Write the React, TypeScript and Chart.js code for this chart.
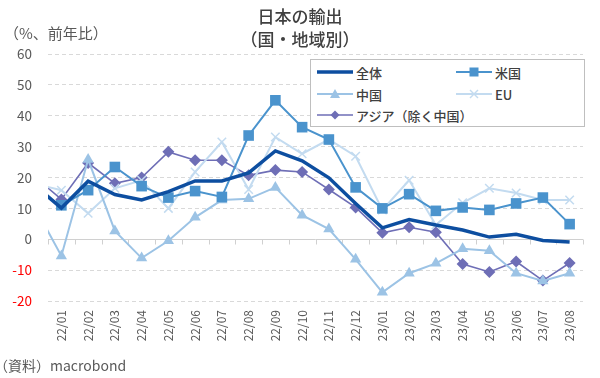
import React, { useEffect, useRef } from "react";
import { Chart, registerables } from "chart.js";

Chart.register(...registerables);

// Months (index 0 = 21/12, partly visible at the left edge)
const months = ["21/12", "22/01", "22/02", "22/03", "22/04", "22/05", "22/06", "22/07", "22/08", "22/09", "22/10", "22/11", "22/12", "23/01", "23/02", "23/03", "23/04", "23/05", "23/06", "23/07", "23/08"];

const total = [17.5, 10.1, 18.8, 14.5, 12.7, 15.4, 18.9, 18.9, 21.5, 28.6, 25.4, 19.9, 11.6, 3.7, 6.4, 4.6, 3.0, 0.7, 1.6, -0.4, -0.9];
const us = [16.0, 11.0, 15.9, 23.4, 17.2, 13.5, 15.6, 13.7, 33.6, 45.0, 36.3, 32.3, 16.8, 10.0, 14.6, 9.2, 10.3, 9.5, 11.6, 13.5, 4.9];
const china = [10.5, -5.4, 25.8, 2.7, -6.1, -0.5, 7.1, 12.7, 13.1, 16.8, 7.8, 3.3, -6.5, -17.2, -11.0, -7.8, -3.1, -3.7, -11.0, -13.5, -11.0];
const eu = [18.0, 15.9, 8.4, 16.5, 19.1, 10.0, 21.8, 31.5, 16.1, 33.1, 27.7, 32.3, 26.9, 9.5, 19.1, 4.6, 11.8, 16.5, 15.0, 12.7, 12.7];
const asia = [20.3, 12.9, 24.7, 18.1, 20.0, 28.3, 25.6, 25.6, 20.7, 22.4, 21.8, 16.1, 10.3, 2.1, 3.9, 2.3, -8.0, -10.6, -7.2, -13.4, -7.7];

const seriesNames = ["全体", "米国", "中国", "EU", "アジア（除く中国）"];
const yMin = -20;
const yMax = 60;
const yStep = 10;

const FONT = "'Noto Sans CJK JP', 'Noto Sans', sans-serif";
const C_TOTAL = "#0D4EA0";
const C_US = "#4A93CD";
const C_CN = "#9CC3E5";
const C_EU = "#C3DBF0";
const C_AS = "#6E6EB6";

const toPts = (arr: number[]) => arr.map((v, i) => ({ x: i, y: v }));

const zeroLinePlugin = {
  id: "zeroLine",
  beforeDatasetsDraw(chart: any) {
    const { ctx, chartArea, scales } = chart;
    const y0 = scales.y.getPixelForValue(0);
    ctx.save();
    ctx.strokeStyle = "#D0D0D0";
    ctx.lineWidth = 1;
    ctx.beginPath();
    ctx.moveTo(chartArea.left, Math.round(y0) + 0.5);
    ctx.lineTo(chartArea.right, Math.round(y0) + 0.5);
    for (let i = 0; i < months.length; i++) {
      const xp = Math.round(scales.x.getPixelForValue(i + 0.5)) + 0.5;
      if (xp < chartArea.left - 1 || xp > chartArea.right + 1) continue;
      ctx.moveTo(xp, Math.round(y0) + 0.5);
      ctx.lineTo(xp, Math.round(y0) + 5.5);
    }
    ctx.stroke();
    ctx.restore();
  },
};

function Marker({ kind, color, width }: { kind: string; color: string; width: number }) {
  const w = 36;
  const h = 14;
  const cx = w / 2;
  const cy = h / 2;
  let shape: any = null;
  if (kind === "square") shape = <rect x={cx - 4.5} y={cy - 4.5} width={9} height={9} fill={color} />;
  if (kind === "triangle") shape = <polygon points={`${cx},${cy - 5} ${cx + 5},${cy + 4} ${cx - 5},${cy + 4}`} fill={color} />;
  if (kind === "cross")
    shape = (
      <g stroke={color} strokeWidth={1.4}>
        <line x1={cx - 4} y1={cy - 4} x2={cx + 4} y2={cy + 4} />
        <line x1={cx - 4} y1={cy + 4} x2={cx + 4} y2={cy - 4} />
      </g>
    );
  if (kind === "diamond") shape = <polygon points={`${cx},${cy - 4.5} ${cx + 4.5},${cy} ${cx},${cy + 4.5} ${cx - 4.5},${cy}`} fill={color} />;
  return (
    <svg width={w} height={h} style={{ display: "block" }}>
      <line x1={0} y1={cy} x2={w} y2={cy} stroke={color} strokeWidth={width} />
      {shape}
    </svg>
  );
}

export default function App() {
  const ref = useRef<HTMLCanvasElement | null>(null);

  useEffect(() => {
    if (!ref.current) return;
    const chart = new Chart(ref.current, {
      type: "line",
      data: {
        datasets: [
          { label: seriesNames[0], data: toPts(total), borderColor: C_TOTAL, borderWidth: 3.5, pointRadius: 0, order: 0 },
          { label: seriesNames[1], data: toPts(us), borderColor: C_US, backgroundColor: C_US, borderWidth: 2, pointStyle: "rect", pointRadius: 7.5, pointBorderWidth: 0, order: 1 },
          { label: seriesNames[2], data: toPts(china), borderColor: C_CN, backgroundColor: C_CN, borderWidth: 2, pointStyle: "triangle", pointRadius: 6.5, pointBorderWidth: 0, order: 2 },
          { label: seriesNames[3], data: toPts(eu), borderColor: C_EU, backgroundColor: C_EU, borderWidth: 2, pointStyle: "crossRot", pointRadius: 6, pointBorderWidth: 1.5, order: 3 },
          { label: seriesNames[4], data: toPts(asia), borderColor: C_AS, backgroundColor: C_AS, borderWidth: 1.6, pointStyle: "rectRot", pointRadius: 6, pointBorderWidth: 0, order: 4 },
        ] as any,
      },
      options: {
        animation: false,
        responsive: false,
        layout: { padding: { top: 54, right: 17, left: 0, bottom: 0 } },
        plugins: { legend: { display: false }, title: { display: false }, tooltip: { enabled: false } },
        elements: { line: { tension: 0 } },
        scales: {
          x: {
            type: "linear",
            min: 0.5,
            max: months.length - 0.5,
            afterBuildTicks: (s: any) => {
              s.ticks = months.slice(1).map((_, i) => ({ value: i + 1 }));
            },
            afterFit: (s: any) => {
              s.height = 77;
            },
            ticks: {
              autoSkip: false,
              minRotation: 90,
              maxRotation: 90,
              padding: 9,
              color: "#595959",
              font: { family: FONT, size: 12 },
              callback: (v: any) => months[v],
            },
            grid: { display: false, drawTicks: false },
            border: { display: false },
          },
          y: {
            min: yMin,
            max: yMax,
            afterFit: (s: any) => {
              s.width = 48;
            },
            ticks: {
              stepSize: yStep,
              padding: 16,
              color: (c: any) => (c.tick && c.tick.value < 0 ? "#FF0000" : "#595959"),
              font: { family: FONT, size: 13.5 },
            },
            grid: {
              drawTicks: false,
              color: (c: any) => (c.tick && c.tick.value === 0 ? "rgba(0,0,0,0)" : "#D9D9D9"),
            },
            border: { display: false, dash: [4, 3] },
          },
        },
      } as any,
      plugins: [zeroLinePlugin],
    });
    return () => chart.destroy();
  }, []);

  const textColor = "#404040";
  const legendItems = [
    { name: seriesNames[0], kind: "none", color: C_TOTAL, width: 3.5, left: 6, top: 4 },
    { name: seriesNames[1], kind: "square", color: C_US, width: 2, left: 145, top: 4 },
    { name: seriesNames[2], kind: "triangle", color: C_CN, width: 2, left: 6, top: 26 },
    { name: seriesNames[3], kind: "cross", color: C_EU, width: 2, left: 145, top: 26 },
    { name: seriesNames[4], kind: "diamond", color: C_AS, width: 1.6, left: 6, top: 47 },
  ];

  return (
    <div style={{ position: "absolute", left: 0, top: 0, width: 600, height: 378, background: "#fff", fontFamily: FONT, overflow: "hidden" }}>
      <canvas ref={ref} width={600} height={378} style={{ position: "absolute", left: 0, top: 0 }} />
      <div style={{ position: "absolute", left: 0, top: 4, width: 600, textAlign: "center", fontSize: 17, lineHeight: "23px", color: textColor, fontWeight: 500 }}>
        <div>日本の輸出</div>
        <div>（国・地域別）</div>
      </div>
      <div style={{ position: "absolute", left: 4, top: 22, fontSize: 15, lineHeight: "22px", color: "#595959" }}>（%、前年比）</div>
      <div style={{ position: "absolute", left: -6, top: 355, fontSize: 14, lineHeight: "20px", color: "#595959" }}>（資料）macrobond</div>
      <div style={{ position: "absolute", left: 310, top: 59, width: 273, height: 66, border: "1px solid #BFBFBF", background: "#fff" }}>
        {legendItems.map((it) => (
          <div key={it.name} style={{ position: "absolute", left: it.left, top: it.top, display: "flex", alignItems: "center", height: 16 }}>
            <Marker kind={it.kind} color={it.color} width={it.width} />
            <span style={{ marginLeft: 3, fontSize: 13, color: textColor, whiteSpace: "nowrap", fontWeight: 500 }}>{it.name}</span>
          </div>
        ))}
      </div>
    </div>
  );
}
